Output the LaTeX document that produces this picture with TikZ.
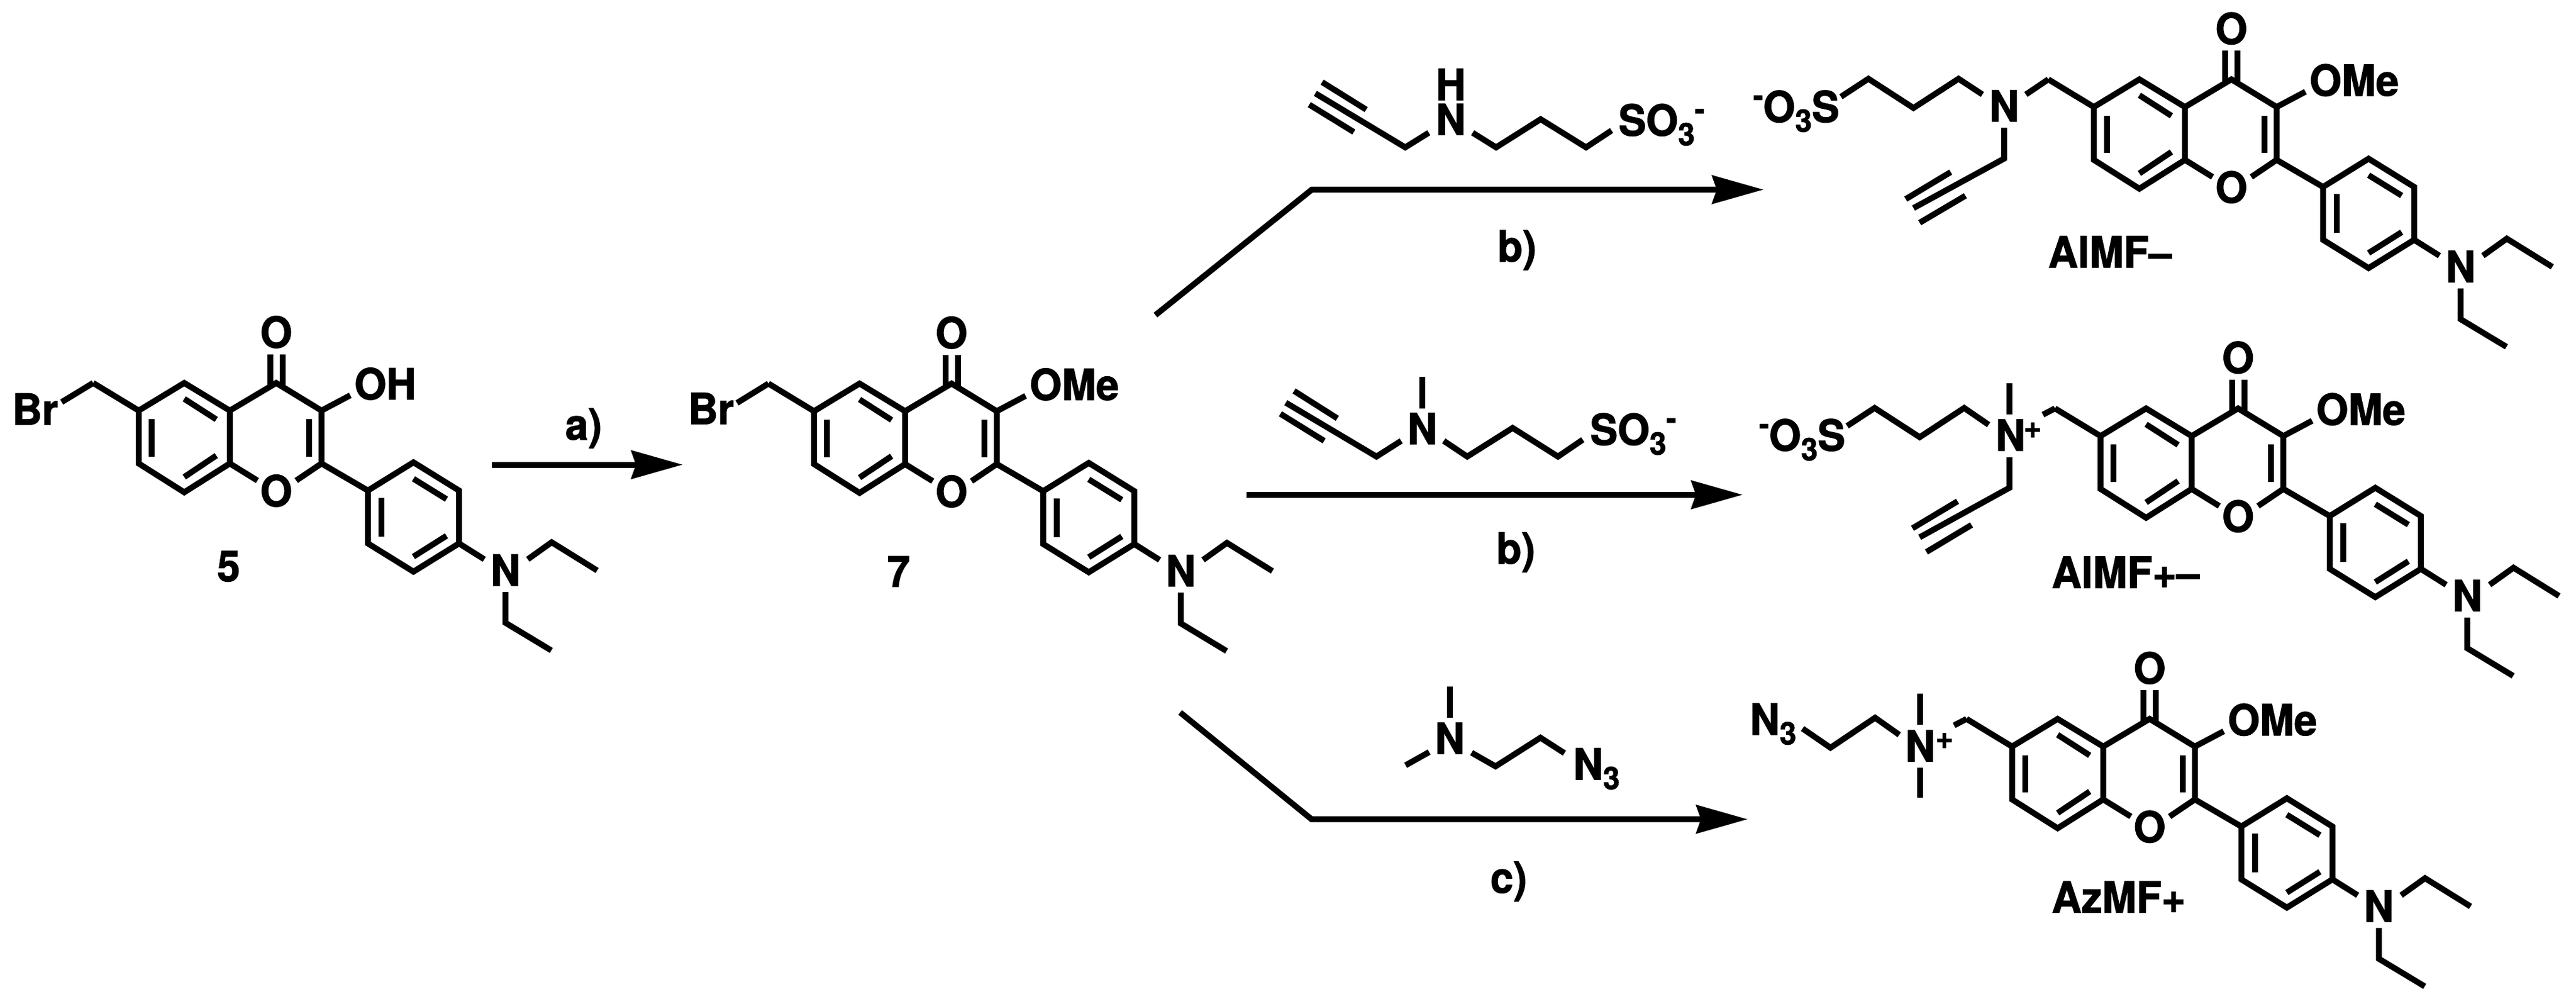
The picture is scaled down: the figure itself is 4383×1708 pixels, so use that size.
\documentclass[tikz,border=0pt]{standalone}
\usepackage{fontspec}
\setmainfont{TeX Gyre Heros}[BoldFeatures={FakeStretch=0.96,FakeBold=1.6}]
\usetikzlibrary{arrows.meta}
\newcommand{\sbf}{\fontsize{53}{60}\selectfont}
\newcommand{\lowthree}{\raisebox{-16.5pt}{\sbf 3}}
\newcommand{\upminus}[1]{\raisebox{#1}{\sbf -}}
\tikzset{
  bond/.style={line width=10pt,line cap=butt,line join=miter,black},
  rxn/.style={line width=10pt,line cap=butt,line join=miter,black,-{Stealth[length=88pt,width=50pt,inset=9pt,line width=0pt]}},
  atomc/.style={inner sep=0pt,outer sep=0pt,anchor=base,font=\fontsize{73}{80}\selectfont\bfseries},
  atoml/.style={inner sep=0pt,outer sep=0pt,anchor=base west,font=\fontsize{73}{80}\selectfont\bfseries},
  chg/.style={inner sep=0pt,outer sep=0pt,anchor=center,font=\fontsize{54}{58}\selectfont\bfseries}
}
% flavone core; #1 prefix, #2 x, #3 y of C6, #4 C3 substituent
\newcommand{\flav}[4]{%
\begin{scope}[shift={(#2,#3)}]
 \coordinate (#1c6) at (0,0);
 \coordinate (#1ch) at (-77.5,-47);
 \coordinate (#1c5) at (77.5,-47);
 \coordinate (#1c4a) at (155,0);
 \coordinate (#1c8a) at (155,90);
 \coordinate (#1c8) at (77.5,139);
 \coordinate (#1c7) at (0,90);
 \coordinate (#1c4) at (234,-47);
 \coordinate (#1c3) at (311,0);
 \coordinate (#1c2) at (311,90);
 \coordinate (#1o1a) at (202,119);
 \coordinate (#1o1b) at (268,119);
 \coordinate (#1oa1) at (223.5,-96);
 \coordinate (#1oa2) at (223.5,-41);
 \coordinate (#1ob1) at (244.5,-96);
 \coordinate (#1ob2) at (244.5,-41);
 \coordinate (#1subend) at (360,-26);
 \coordinate (#1i1a) at (22,14.5);
 \coordinate (#1i1b) at (22,78);
 \coordinate (#1i2a) at (77.5,-20);
 \coordinate (#1i2b) at (132,15);
 \coordinate (#1i3a) at (77.5,113);
 \coordinate (#1i3b) at (132,76.5);
 \coordinate (#1i4a) at (290,14.5);
 \coordinate (#1i4b) at (290,78);
 \coordinate (#1p1) at (390,136);
 \coordinate (#1p2) at (467.5,88);
 \coordinate (#1p3) at (545,136);
 \coordinate (#1p4) at (545,226);
 \coordinate (#1p5) at (467.5,274);
 \coordinate (#1p6) at (390,226);
 \coordinate (#1i5a) at (467.5,116);
 \coordinate (#1i5b) at (523.7,150.7);
 \coordinate (#1i6a) at (413,148);
 \coordinate (#1i6b) at (413,214);
 \coordinate (#1i7a) at (523.7,213);
 \coordinate (#1i7b) at (467.5,248.4);
 \coordinate (#1nend) at (588,253);
 \coordinate (#1e1a) at (662,253);
 \coordinate (#1e1b) at (702.6,224);
 \coordinate (#1e1c) at (780,272);
 \coordinate (#1e2a) at (624,308.7);
 \coordinate (#1e2b) at (624,361);
 \coordinate (#1e2c) at (702,408);
 \draw[bond] (#1c6) -- (#1c5) -- (#1c4a) -- (#1c8a) -- (#1c8) -- (#1c7) -- cycle;
 \draw[bond] (#1c4a) -- (#1c4) -- (#1c3) -- (#1c2) -- (#1p1);
 \draw[bond] (#1c8a) -- (#1o1a);
 \draw[bond] (#1c2) -- (#1o1b);
 \draw[bond] (#1oa1) -- (#1oa2);
 \draw[bond] (#1ob1) -- (#1ob2);
 \draw[bond] (#1c3) -- (#1subend);
 \draw[bond] (#1i1a) -- (#1i1b);
 \draw[bond] (#1i2a) -- (#1i2b);
 \draw[bond] (#1i3a) -- (#1i3b);
 \draw[bond] (#1i4a) -- (#1i4b);
 \draw[bond] (#1p1) -- (#1p2) -- (#1p3) -- (#1p4) -- (#1p5) -- (#1p6) -- cycle;
 \draw[bond] (#1i5a) -- (#1i5b);
 \draw[bond] (#1i6a) -- (#1i6b);
 \draw[bond] (#1i7a) -- (#1i7b);
 \draw[bond] (#1p4) -- (#1nend);
 \draw[bond] (#1e1a) -- (#1e1b) -- (#1e1c);
 \draw[bond] (#1e2a) -- (#1e2b) -- (#1e2c);
 \draw[bond] (#1c6) -- (#1ch);
 \node[atomc] (#1ringO) at (234,163) {O};
 \node[atomc] (#1ketO) at (234,-107) {O};
 \node[atoml] (#1sub) at (367,-19) {#4};
 \node[atomc] (#1nt) at (624,298) {N};
\end{scope}}
\begin{document}
\begin{tikzpicture}[x=1pt,y=-1pt]
\path[fill=white,use as bounding box] (0,0) rectangle (4383,1708);

% compound 5
\flav{a}{236}{698.5}{OH}
\coordinate (abr) at (105,684);
\draw[bond] (ach) -- (abr);
\node[atoml] (abrt) at (21,722.5) {Br};
\node[atomc] (five) at (389,989) {5};

% arrow a
\coordinate (a1) at (837,790.5);
\coordinate (a2) at (1161,790.5);
\draw[rxn] (a1) -- (a2);
\node[atomc] (la) at (993,748) {a)};

% compound 7
\flav{b}{1385}{699.5}{OMe}
\coordinate (bbr) at (1254,685.5);
\draw[bond] (bch) -- (bbr);
\node[atoml] (bbrt) at (1171,721.5) {Br};
\node[atomc] (seven) at (1529,998) {7};

% top arrow
\coordinate (t0) at (1966,536);
\coordinate (t1) at (2232,322.6);
\coordinate (t2) at (3000,322.6);
\draw[rxn] (t0) -- (t1) -- (t2);
\node[atomc] (lb1) at (2581,445) {b)};

% mid arrow
\coordinate (m1) at (2121,841.7);
\coordinate (m2) at (2964.5,841.7);
\draw[rxn] (m1) -- (m2);
\node[atomc] (lb2) at (2579,959) {b)};

% bottom arrow
\coordinate (u0) at (2008,1212);
\coordinate (u1) at (2231.6,1393.7);
\coordinate (u2) at (2973,1393.7);
\draw[rxn] (u0) -- (u1) -- (u2);
\node[atomc] (lc) at (2567,1519) {c)};

% reagent 1
\coordinate (r1a) at (2238,158.8);
\coordinate (r1b) at (2391,250.7);
\coordinate (r1c) at (2431,225.8);
\coordinate (r1u1) at (2249.5,139.7);
\coordinate (r1u2) at (2324.5,186.4);
\coordinate (r1l1) at (2227.7,178);
\coordinate (r1l2) at (2303.5,224.6);
\coordinate (r1d) at (2505.6,225.8);
\coordinate (r1e) at (2545.6,250.7);
\coordinate (r1f) at (2621.4,202.8);
\coordinate (r1g) at (2698.6,250.7);
\coordinate (r1h) at (2742,222);
\draw[bond] (r1a) -- (r1b) -- (r1c);
\draw[bond] (r1u1) -- (r1u2);
\draw[bond] (r1l1) -- (r1l2);
\draw[bond] (r1d) -- (r1e) -- (r1f) -- (r1g) -- (r1h);
\node[atomc] (r1n) at (2468.4,229.6) {N};
\node[atomc] (r1hh) at (2468.4,170.3) {H};
\node[atoml] (r1s) at (2754,230.8) {SO\lowthree\upminus{27pt}};

% reagent 2
\coordinate (r2a) at (2187.7,685);
\coordinate (r2b) at (2342,776.7);
\coordinate (r2c) at (2384,750);
\coordinate (r2u1) at (2201.8,665);
\coordinate (r2u2) at (2275.4,711.7);
\coordinate (r2l1) at (2178.6,704);
\coordinate (r2l2) at (2253,750);
\coordinate (r2m1) at (2420,695);
\coordinate (r2m2) at (2420,641);
\coordinate (r2d) at (2456.5,750);
\coordinate (r2e) at (2496.5,776.7);
\coordinate (r2f) at (2573.7,728);
\coordinate (r2g) at (2650.9,776.7);
\coordinate (r2h) at (2693,748);
\draw[bond] (r2a) -- (r2b) -- (r2c);
\draw[bond] (r2u1) -- (r2u2);
\draw[bond] (r2l1) -- (r2l2);
\draw[bond] (r2m1) -- (r2m2);
\draw[bond] (r2d) -- (r2e) -- (r2f) -- (r2g) -- (r2h);
\node[atomc] (r2n) at (2420,755.7) {N};
\node[atoml] (r2s) at (2705.6,757) {SO\lowthree\upminus{27pt}};

% reagent 3
\coordinate (r3m1) at (2466.7,1220.5);
\coordinate (r3m2) at (2466.7,1168);
\coordinate (r3l1) at (2431.6,1279.4);
\coordinate (r3l2) at (2391.6,1301.9);
\coordinate (r3d) at (2503.9,1280.5);
\coordinate (r3e) at (2544.6,1303.7);
\coordinate (r3f) at (2621,1255);
\coordinate (r3g) at (2661.8,1281.2);
\draw[bond] (r3m1) -- (r3m2);
\draw[bond] (r3l1) -- (r3l2);
\draw[bond] (r3d) -- (r3e) -- (r3f) -- (r3g);
\node[atomc] (r3n) at (2466.7,1282.4) {N};
\node[atoml] (r3t) at (2677,1326.2) {N\lowthree};

% AlMF-
\flav{c}{3562.6}{182}{OMe}
\coordinate (cb) at (3447,160.7);
\draw[bond] (cch) -- (cb);
\coordinate (cl1) at (3373,160.7);
\coordinate (cl2) at (3332.4,134);
\coordinate (cl3) at (3255.7,183.7);
\coordinate (cl4) at (3179,134);
\coordinate (cl5) at (3132.3,164.6);
\draw[bond] (cl1) -- (cl2) -- (cl3) -- (cl4) -- (cl5);
\node[atomc] (cn) at (3410,206.7) {N};
\node[atoml] (cs) at (2983,207.8) {\upminus{27pt}O\lowthree S};
\coordinate (cd1) at (3410,217.4);
\coordinate (cd2) at (3410,269.8);
\coordinate (cd3) at (3255.7,354);
\coordinate (cu1) at (3319,292.8);
\coordinate (cu2) at (3242.5,338.7);
\coordinate (cw1) at (3344,333);
\coordinate (cw2) at (3266.3,378.9);
\draw[bond] (cd1) -- (cd2) -- (cd3);
\draw[bond] (cu1) -- (cu2);
\draw[bond] (cw1) -- (cw2);
\node[atoml] (cname) at (3485,455) {AlMF--};

% AlMF+-
\flav{d}{3574}{741.8}{OMe}
\coordinate (db) at (3476,705.4);
\draw[bond] (dch) -- (db);
\coordinate (dl1) at (3383.6,722.6);
\coordinate (dl2) at (3342,694);
\coordinate (dl3) at (3266.3,743.7);
\coordinate (dl4) at (3189.6,694);
\coordinate (dl5) at (3142.9,724.6);
\draw[bond] (dl1) -- (dl2) -- (dl3) -- (dl4) -- (dl5);
\node[atomc] (dn) at (3420.6,766.7) {N};
\node[chg] (dp) at (3458.5,732) {+};
\node[atoml] (ds) at (2993,766.7) {\upminus{27pt}O\lowthree S};
\coordinate (dm1) at (3419,705.4);
\coordinate (dm2) at (3419,651.8);
\draw[bond] (dm1) -- (dm2);
\coordinate (dd1) at (3419,778);
\coordinate (dd2) at (3419,829.8);
\coordinate (dd3) at (3266.3,914);
\coordinate (du1) at (3330.7,852.8);
\coordinate (du2) at (3254,898.7);
\coordinate (dw1) at (3354.5,893);
\coordinate (dw2) at (3277.8,939);
\draw[bond] (dd1) -- (dd2) -- (dd3);
\draw[bond] (du1) -- (du2);
\draw[bond] (dw1) -- (dw2);
\node[atoml] (dname) at (3491,1000) {AlMF+--};

% AzMF+
\flav{e}{3423.5}{1270}{OMe}
\coordinate (eb) at (3324.8,1234);
\draw[bond] (ech) -- (eb);
\coordinate (el1) at (3231.5,1250);
\coordinate (el2) at (3190.4,1221);
\coordinate (el3) at (3114.5,1272);
\coordinate (el4) at (3067,1239.4);
\draw[bond] (el1) -- (el2) -- (el3) -- (el4);
\node[atomc] (en) at (3267.2,1295.5) {N};
\node[chg] (ep) at (3308.3,1260.2) {+};
\coordinate (em1) at (3267.2,1233);
\coordinate (em2) at (3267.2,1180);
\coordinate (em3) at (3267.2,1306.3);
\coordinate (em4) at (3267.2,1357);
\draw[bond] (em1) -- (em2);
\draw[bond] (em3) -- (em4);
\node[atoml] (et) at (2977.5,1250) {N\lowthree};
\node[atoml] (ename) at (3491,1552.5) {AzMF+};
\end{tikzpicture}
\end{document}
